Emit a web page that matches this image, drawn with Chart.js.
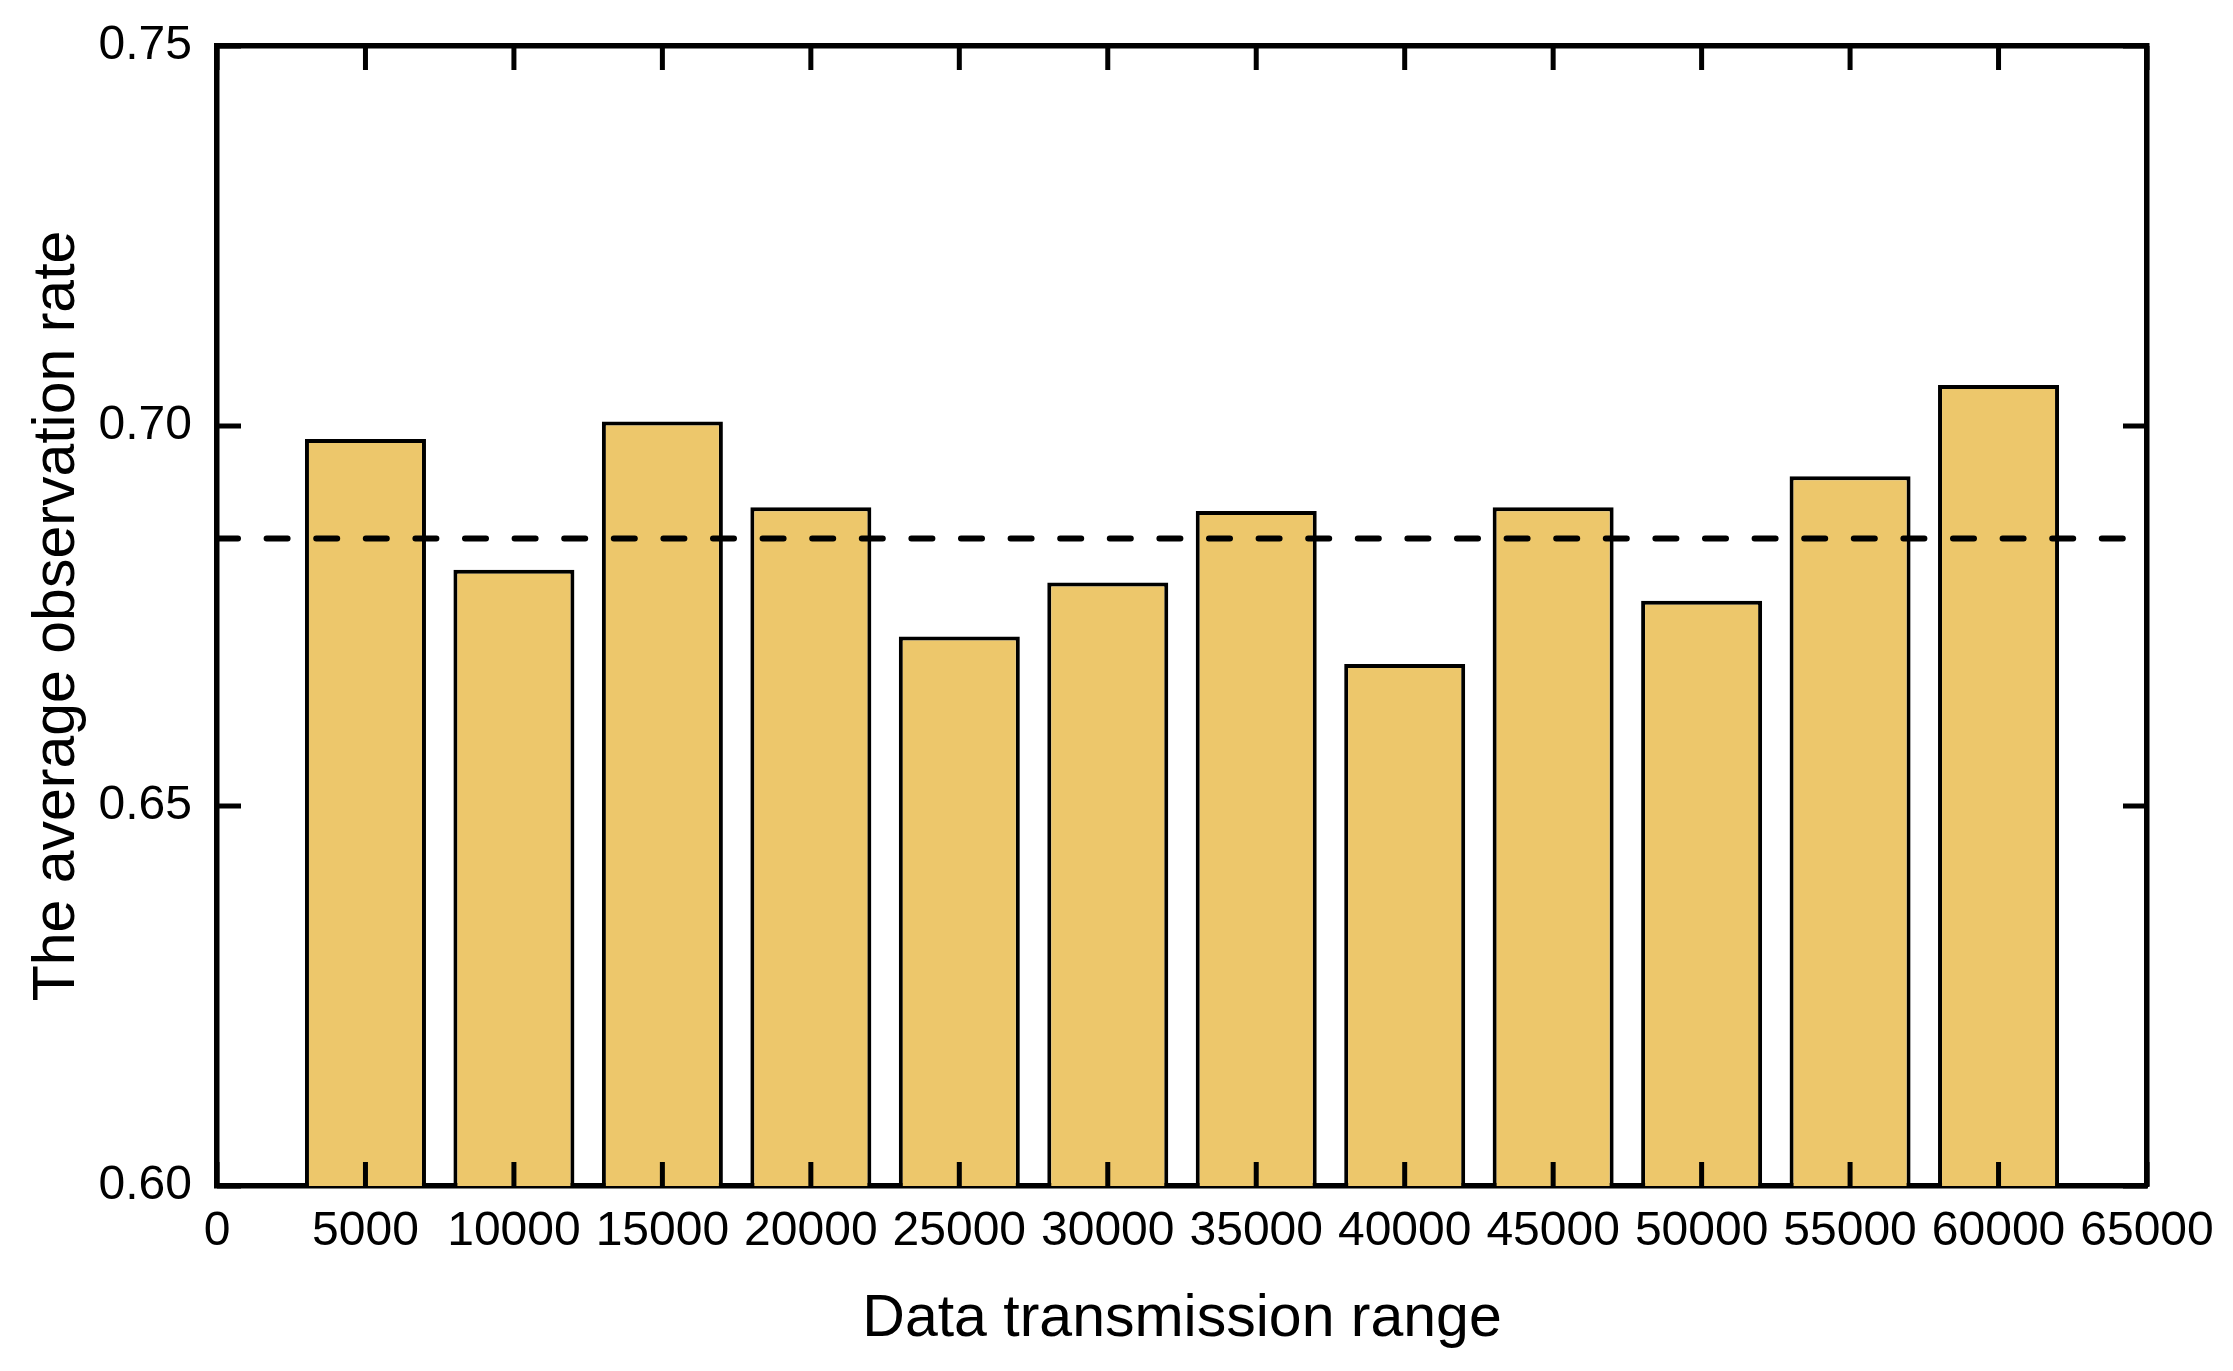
<!DOCTYPE html>
<html>
<head>
<meta charset="utf-8">
<script src="https://cdn.jsdelivr.net/npm/chart.js@4/dist/chart.umd.min.js"></script>
<style>
    body { margin: 0; background: #ffffff; }
    canvas { display: block; }
</style>
</head>
<body>
<canvas id="grafico-observacion" width="2233" height="1371"></canvas>
<script>
// valores
var rangos = [5000, 10000, 15000, 20000, 25000, 30000, 35000, 40000, 45000, 50000, 55000, 60000];
var tasas = [0.6983, 0.6811, 0.7006, 0.6893, 0.6723, 0.6794, 0.6888, 0.6687, 0.6893, 0.6770, 0.6934, 0.7054];
var promedio = 0.6852;
var promedioDesde = 0;
var promedioHasta = 64360;
var ticksX = [0, 5000, 10000, 15000, 20000, 25000, 30000, 35000, 40000, 45000, 50000, 55000, 60000, 65000];
var ticksY = [0.60, 0.65, 0.70, 0.75];

var fuente = "'Liberation Sans', Arial, sans-serif";
var largoTick = 24;

var puntosBarras = [];
for (var i = 0; i < rangos.length; i++) {
    puntosBarras.push({ x: rangos[i], y: tasas[i] });
}

function fijarTicks(lista) {
    return function (scale) {
        scale.ticks = lista.map(function (v) { return { value: v }; });
    };
}

function ajustar(ancho, alto) {
    return function (scale) {
        if (ancho !== null) scale.width = ancho;
        if (alto !== null) scale.height = alto;
        scale.paddingTop = 0;
        scale.paddingBottom = 0;
        scale.paddingLeft = 0;
        scale.paddingRight = 0;
    };
}

var rejilla = {
    display: true,
    drawOnChartArea: false,
    drawTicks: false,
    offset: false
};

var borde = { display: true, color: '#000000', width: 5.5 };

// marcas de los ticks hacia dentro, en los cuatro lados
var ticksInternos = {
    id: 'ticksInternos',
    afterDraw: function (chart) {
        var c = chart.ctx;
        var area = chart.chartArea;
        c.save();
        c.strokeStyle = '#000000';
        c.lineWidth = 5;
        ['x', 'x2', 'y', 'y2'].forEach(function (id) {
            var s = chart.scales[id];
            s.ticks.forEach(function (t) {
                var p = s.getPixelForValue(t.value);
                c.beginPath();
                if (id === 'x') { c.moveTo(p, area.bottom); c.lineTo(p, area.bottom - largoTick); }
                if (id === 'x2') { c.moveTo(p, area.top); c.lineTo(p, area.top + largoTick); }
                if (id === 'y') { c.moveTo(area.left, p); c.lineTo(area.left + largoTick, p); }
                if (id === 'y2') { c.moveTo(area.right, p); c.lineTo(area.right - largoTick, p); }
                c.stroke();
            });
        });
        c.restore();
    }
};

const ctx = document.getElementById("grafico-observacion");
var myChart = new Chart(ctx, {
    type: 'bar',
    data: {
        datasets: [{
            type: 'line',
            label: 'Promedio',
            data: [{ x: promedioDesde, y: promedio }, { x: promedioHasta, y: promedio }],
            borderColor: '#000000',
            borderWidth: 6,
            borderDash: [21, 28.6],
            borderCapStyle: 'round',
            pointRadius: 0,
            fill: false,
            order: 0,
            xAxisID: 'x',
            yAxisID: 'y'
        }, {
            label: 'Tasa de observacion',
            data: puntosBarras,
            backgroundColor: '#EDC76B',
            borderColor: '#000000',
            borderWidth: 4,
            barPercentage: 0.815,
            categoryPercentage: 1.0,
            order: 1,
            xAxisID: 'x',
            yAxisID: 'y'
        }]
    },
    plugins: [ticksInternos],
    options: {
        responsive: false,
        devicePixelRatio: 1,
        animation: false,
        layout: { padding: 0 },
        plugins: {
            legend: { display: false },
            tooltip: { enabled: false }
        },
        scales: {
            x: {
                type: 'linear',
                position: 'bottom',
                min: 0,
                max: 65000,
                offset: false,
                afterBuildTicks: fijarTicks(ticksX),
                afterFit: ajustar(null, 185),
                grid: rejilla,
                border: borde,
                ticks: {
                    padding: 17,
                    color: '#000000',
                    maxRotation: 0,
                    autoSkip: false,
                    font: { family: fuente, size: 48 },
                    callback: function (value) { return String(value); }
                },
                title: {
                    display: true,
                    text: 'Data transmission range',
                    color: '#000000',
                    font: { family: fuente, size: 59 },
                    padding: { top: 0, bottom: 16 }
                }
            },
            x2: {
                type: 'linear',
                position: 'top',
                min: 0,
                max: 65000,
                offset: false,
                afterBuildTicks: fijarTicks(ticksX),
                afterFit: ajustar(null, 46),
                grid: rejilla,
                border: borde,
                ticks: { display: false }
            },
            y: {
                type: 'linear',
                position: 'left',
                min: 0.60,
                max: 0.75,
                afterBuildTicks: fijarTicks(ticksY),
                afterFit: ajustar(217, null),
                grid: rejilla,
                border: borde,
                ticks: {
                    padding: 25,
                    color: '#000000',
                    font: { family: fuente, size: 48 },
                    callback: function (value) { return value.toFixed(2); }
                },
                title: {
                    display: true,
                    text: 'The average observation rate',
                    color: '#000000',
                    font: { family: fuente, size: 59 },
                    padding: { top: 22, bottom: 0 }
                }
            },
            y2: {
                type: 'linear',
                position: 'right',
                min: 0.60,
                max: 0.75,
                afterBuildTicks: fijarTicks(ticksY),
                afterFit: ajustar(86, null),
                grid: rejilla,
                border: borde,
                ticks: { display: false }
            }
        }
    }
});
</script>
</body>
</html>
